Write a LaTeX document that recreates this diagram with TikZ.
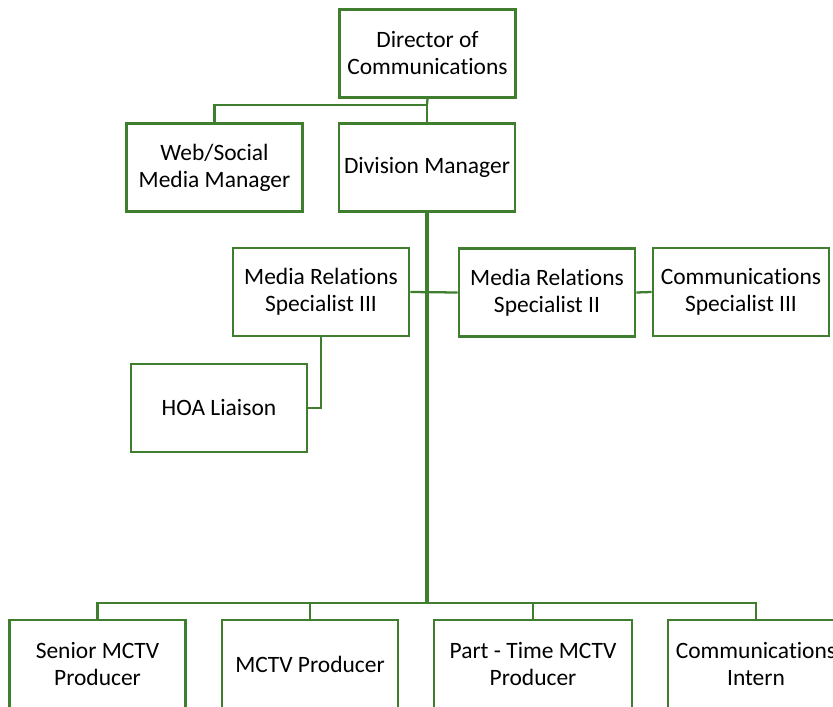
\documentclass[tikz,border=0pt]{standalone}
\usepackage{fontspec}
\setmainfont{Carlito}[Ligatures=NoCommon]
\definecolor{orggreen}{RGB}{62,126,46}
\begin{document}
\begin{tikzpicture}[x=0.75pt,y=-0.75pt,
  box/.style={draw=orggreen,line width=2pt,fill=white,align=center,
    minimum width=132pt,minimum height=66pt,inner sep=2pt,
    font=\fontsize{17.6pt}{20.25pt}\selectfont},
  conn/.style={draw=orggreen,line width=1.7pt},
  trunk/.style={draw=orggreen,line width=2.4pt}]
\useasboundingbox (0,0) rectangle (833,707);
\coordinate (j1) at (427,105);
\coordinate (j2) at (427,603);
\node[box] (dir) at (427.5,53.5) {Director of\\Communications};
\node[box] (web) at (214.5,167.5) {Web/Social\\Media Manager};
\node[box] (div) at (427,167.5) {Division Manager};
\node[box] (mr3) at (321,292) {Media Relations\\Specialist III};
\node[box] (mr2) at (547,292.5) {Media Relations\\Specialist II};
\node[box] (cs3) at (741,292) {Communications\\Specialist III};
\node[box] (hoa) at (219,408) {HOA Liaison};
\node[box,minimum height=66pt] (sen) at (97.5,664) {Senior MCTV\\Producer};
\node[box,minimum height=66pt] (mctv) at (310,664) {MCTV Producer};
\node[box,minimum height=66pt,minimum width=148.5pt] (pt) at (533,664) {Part - Time MCTV\\Producer};
\node[box,minimum height=66pt] (int) at (756,664) {Communications\\Intern};
\draw[conn] (dir.south) -- (j1);
\draw[conn] (j1) -| (web.north);
\draw[conn] (j1) -- (div.north);
\draw[trunk] (div.south) -- (j2);
\draw[conn] (mr3.east) -- (mr2.west);
\draw[conn] (mr2.east) -- (cs3.west);
\draw[conn] (mr3.south) |- (hoa.east);
\draw[conn] (j2) -| (sen.north);
\draw[conn] (j2) -| (mctv.north);
\draw[conn] (j2) -| (pt.north);
\draw[conn] (j2) -| (int.north);
\end{tikzpicture}
\end{document}
